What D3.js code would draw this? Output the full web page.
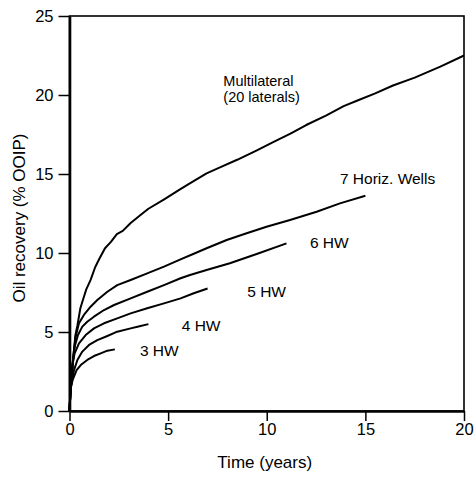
<!DOCTYPE html>
<html>
<head>
<meta charset="utf-8">
<script src="https://cdn.jsdelivr.net/npm/d3@7"></script>
<style>
  body { margin: 0; background: #fff; }
  text { font-family: "Liberation Sans", Arial, sans-serif; fill: #000; }
  .axis path, .axis line { stroke: #000; }
</style>
</head>
<body>
<div id="chart"></div>
<script>
// Recovery curves: [time (years), recovery (% OOIP)]
const multilateral = [[0, 0], [0.04, 1.0], [0.09, 1.8], [0.16, 3.0], [0.23, 3.9], [0.3, 4.8], [0.4, 5.4],
    [0.55, 6.5], [0.7, 7.1], [0.85, 7.7], [1.07, 8.3], [1.3, 9.1], [1.5, 9.6], [1.8, 10.3], [2.1, 10.7],
    [2.4, 11.2], [2.7, 11.4], [3.1, 11.9], [3.6, 12.4], [4.0, 12.8], [4.8, 13.4], [5.5, 13.95], [6.1, 14.4],
    [6.95, 15.04], [7.6, 15.4], [8.5, 15.9], [9.5, 16.5], [10.3, 17.0], [11.2, 17.55], [12.0, 18.1],
    [13.0, 18.7], [13.9, 19.3], [14.6, 19.65], [15.5, 20.1], [16.4, 20.6], [17.5, 21.1], [18.8, 21.8], [20, 22.5]];
const hw7 = [[0, 0], [0.04, 1.0], [0.09, 1.75], [0.18, 3.3], [0.31, 4.7], [0.48, 5.55], [0.73, 6.08],
    [1.07, 6.6], [1.41, 7.03], [1.92, 7.55], [2.42, 7.97], [3.1, 8.29], [3.94, 8.71], [4.79, 9.14],
    [5.63, 9.6], [6.3, 9.95], [6.95, 10.3], [7.97, 10.82], [8.98, 11.25], [9.99, 11.66], [11.18, 12.09],
    [12.53, 12.61], [13.71, 13.14], [15.0, 13.62]];
const hw6 = [[0, 0], [0.04, 1.0], [0.09, 1.75], [0.17, 3.0], [0.26, 4.07], [0.43, 4.81], [0.65, 5.34],
    [0.9, 5.65], [1.24, 5.97], [1.75, 6.39], [2.26, 6.71], [3.1, 7.13], [3.94, 7.55], [4.79, 7.97],
    [5.63, 8.4], [6.11, 8.61], [6.95, 8.92], [8.13, 9.35], [9.49, 9.94], [11.0, 10.61]];
const hw5 = [[0, 0], [0.04, 1.0], [0.09, 1.75], [0.14, 2.9], [0.26, 3.65], [0.48, 4.28], [0.82, 4.81],
    [1.24, 5.23], [1.75, 5.55], [2.42, 5.86], [3.1, 6.18], [3.94, 6.5], [4.79, 6.81], [5.63, 7.13],
    [6.3, 7.45], [7.0, 7.75]];
const hw4 = [[0, 0], [0.04, 1.0], [0.09, 1.75], [0.23, 2.59], [0.4, 3.23], [0.65, 3.76], [0.99, 4.18],
    [1.41, 4.49], [1.92, 4.75], [2.42, 5.02], [3.1, 5.23], [3.5, 5.35], [4.0, 5.5]];
const hw3 = [[0, 0], [0.04, 1.0], [0.09, 1.65], [0.19, 2.07], [0.36, 2.59], [0.57, 2.91], [0.9, 3.23],
    [1.24, 3.48], [1.58, 3.65], [1.92, 3.82], [2.3, 3.9]];

const seriesList = [multilateral, hw7, hw6, hw5, hw4, hw3];

// Curve labels: text and its anchor in data units (left edge, baseline)
const labelText = ["Multilateral", "(20 laterals)", "7 Horiz. Wells", "6 HW", "5 HW", "4 HW", "3 HW"];
const labelAt = [[7.8, 20.6], [7.8, 19.54], [13.71, 14.37], [12.19, 10.3], [9.01, 7.23], [5.69, 5.08], [3.57, 3.5]];

const xTicks = [0, 5, 10, 15, 20];
const yTicks = [0, 5, 10, 15, 20, 25];
const xTitle = "Time (years)";
const yTitle = "Oil recovery (% OOIP)";

const totalWidth = 474, totalHeight = 477;
const margin = { top: 16, left: 69.5, bottom: 66, right: 10 };
const width = totalWidth - margin.left - margin.right;
const height = totalHeight - margin.top - margin.bottom;

const x = d3.scaleLinear().domain([0, 20]).range([0, width]);
const y = d3.scaleLinear().domain([0, 25]).range([height, 0]);

const svg = d3.select("#chart").append("svg")
    .attr("width", totalWidth)
    .attr("height", totalHeight)
    .append("g")
    .attr("transform", "translate(" + margin.left + "," + margin.top + ")");

// thin frame round the plot
svg.append("rect")
    .attr("x", 0).attr("y", 0)
    .attr("width", width).attr("height", height)
    .style("fill", "none")
    .style("stroke", "#000")
    .style("stroke-width", 1.6);

const xAxis = svg.append("g")
    .attr("class", "x axis")
    .attr("transform", "translate(0," + height + ")")
    .call(d3.axisBottom(x).tickValues(xTicks).tickSize(10).tickSizeOuter(0).tickPadding(2));

const yAxis = svg.append("g")
    .attr("class", "y axis")
    .call(d3.axisLeft(y).tickValues(yTicks).tickSize(11).tickSizeOuter(0).tickPadding(5));

[xAxis, yAxis].forEach(function (ax) {
    ax.select(".domain").style("stroke-width", 2.6);
    ax.selectAll(".tick line").style("stroke-width", 1.5);
    ax.selectAll(".tick text").style("font-size", "16.5px");
});

// curves
const line = d3.line()
    .x(function (d) { return x(d[0]); })
    .y(function (d) { return y(d[1]); });

svg.selectAll(".curve")
    .data(seriesList)
    .enter().append("path")
    .attr("class", "curve")
    .attr("d", line)
    .style("fill", "none")
    .style("stroke", "#000")
    .style("stroke-width", 2)
    .style("stroke-linejoin", "round");

// curve labels
svg.selectAll(".label")
    .data(labelText)
    .enter().append("text")
    .attr("class", "label")
    .attr("x", function (d, i) { return x(labelAt[i][0]); })
    .attr("y", function (d, i) { return y(labelAt[i][1]); })
    .style("font-size", function (d, i) { return i < 2 ? "14.5px" : "15.5px"; })
    .text(function (d) { return d; });

// axis titles
svg.append("text")
    .attr("x", width / 2 - 2)
    .attr("y", height + 56.5)
    .style("text-anchor", "middle")
    .style("font-size", "17px")
    .text(xTitle);

svg.append("text")
    .attr("transform", "translate(" + (25 - margin.left) + "," + (218 - margin.top) + ") rotate(-90)")
    .style("text-anchor", "middle")
    .style("font-size", "17px")
    .text(yTitle);
</script>
</body>
</html>
